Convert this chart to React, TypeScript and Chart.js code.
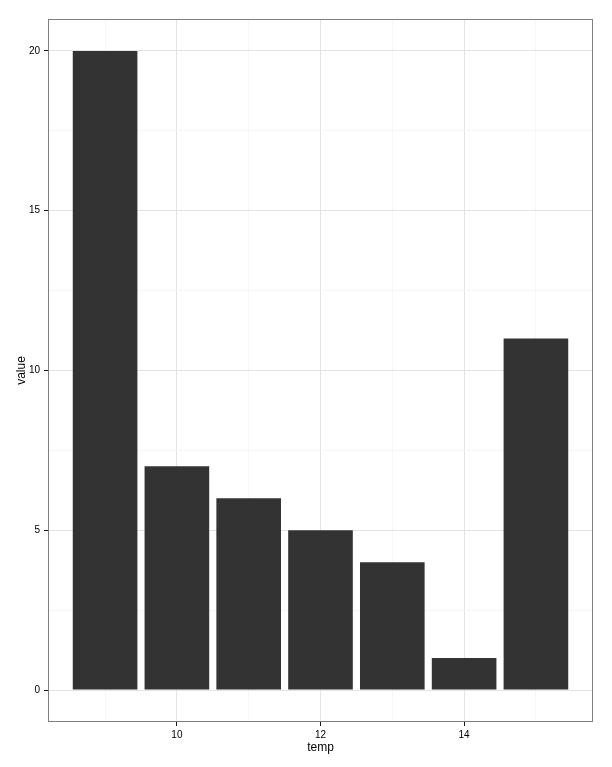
import React, { useEffect, useRef } from 'react';
import { Chart, registerables } from 'chart.js';

Chart.register(...registerables);

const temps = [9, 10, 11, 12, 13, 14, 15];
const values = [20, 7, 6, 5, 4, 1, 11];
const xMajorTicks = [10, 12, 14];
const xMinorTicks = [9, 11, 13, 15];
const yMajorTicks = [0, 5, 10, 15, 20];
const yMinorTicks = [2.5, 7.5, 12.5, 17.5];
const xLabel = 'temp';
const yLabel = 'value';

const FONT = 'Liberation Sans, Arial, sans-serif';

const panelBorder = {
  id: 'panelBorder',
  afterDraw(chart: any) {
    const { ctx, chartArea } = chart;
    ctx.save();
    ctx.strokeStyle = '#7f7f7f';
    ctx.lineWidth = 1;
    ctx.strokeRect(
      Math.round(chartArea.left) + 0.5,
      Math.round(chartArea.top) + 0.5,
      Math.round(chartArea.right - chartArea.left) - 1,
      Math.round(chartArea.bottom - chartArea.top) - 1
    );
    ctx.restore();
  },
};

export default function App() {
  const ref = useRef<HTMLCanvasElement>(null);

  useEffect(() => {
    document.body.style.margin = '0';
    const xlo = Math.min(...temps) - 0.45;
    const xhi = Math.max(...temps) + 0.45;
    const xpad = 0.05 * (xhi - xlo);
    const ylo = Math.min(0, ...values);
    const yhi = Math.max(...values);
    const ypad = 0.05 * (yhi - ylo);
    const xTicks = [...xMajorTicks, ...xMinorTicks].sort((a, b) => a - b);
    const yTicks = [...yMajorTicks, ...yMinorTicks].sort((a, b) => a - b);

    const chart = new Chart(ref.current!, {
      type: 'bar',
      data: {
        datasets: [
          {
            data: temps.map((t, i) => ({ x: t, y: values[i] })),
            backgroundColor: '#333333',
            borderWidth: 0,
            barPercentage: 0.9,
            categoryPercentage: 1,
          },
        ],
      },
      options: {
        responsive: false,
        animation: false,
        devicePixelRatio: 1,
        layout: { padding: { top: 19, right: 19, left: 0, bottom: 0 } },
        plugins: { legend: { display: false }, tooltip: { enabled: false } },
        scales: {
          x: {
            type: 'linear',
            min: xlo - xpad,
            max: xhi + xpad,
            offset: false,
            afterBuildTicks: (s: any) => {
              s.ticks = xTicks.map((v) => ({ value: v }));
            },
            afterFit: (s: any) => {
              s.height = 45;
            },
            border: { display: false },
            grid: {
              offset: false,
              color: (c: any) => (xMajorTicks.includes(c.tick?.value) ? '#e3e3e3' : '#f6f6f6'),
              tickColor: (c: any) => (xMajorTicks.includes(c.tick?.value) ? '#1a1a1a' : 'rgba(0,0,0,0)'),
              lineWidth: 1,
              tickLength: 4,
            },
            ticks: {
              autoSkip: false,
              maxRotation: 0,
              padding: 3,
              color: '#000',
              font: { family: FONT, size: 10 },
              callback: (v: any) => (xMajorTicks.includes(v) ? String(v) : ''),
            },
            title: {
              display: true,
              text: xLabel,
              color: '#000',
              font: { family: FONT, size: 12 },
              padding: { top: 0, bottom: 12 },
            },
          },
          y: {
            type: 'linear',
            min: ylo - ypad,
            max: yhi + ypad,
            afterBuildTicks: (s: any) => {
              s.ticks = yTicks.map((v) => ({ value: v }));
            },
            afterFit: (s: any) => {
              s.width = 48;
            },
            border: { display: false },
            grid: {
              offset: false,
              color: (c: any) => (yMajorTicks.includes(c.tick?.value) ? '#e3e3e3' : '#f6f6f6'),
              tickColor: (c: any) => (yMajorTicks.includes(c.tick?.value) ? '#1a1a1a' : 'rgba(0,0,0,0)'),
              lineWidth: 1,
              tickLength: 4,
            },
            ticks: {
              autoSkip: false,
              padding: 4,
              color: '#000',
              font: { family: FONT, size: 10 },
              callback: (v: any) => (yMajorTicks.includes(v) ? String(v) : ''),
            },
            title: {
              display: true,
              text: yLabel,
              color: '#000',
              font: { family: FONT, size: 12 },
              padding: { top: 14, bottom: 0 },
            },
          },
        },
      },
      plugins: [panelBorder],
    });
    return () => chart.destroy();
  }, []);

  return (
    <div style={{ width: 612, height: 767 }}>
      <canvas ref={ref} width={612} height={767} style={{ display: 'block', width: 612, height: 767 }} />
    </div>
  );
}
